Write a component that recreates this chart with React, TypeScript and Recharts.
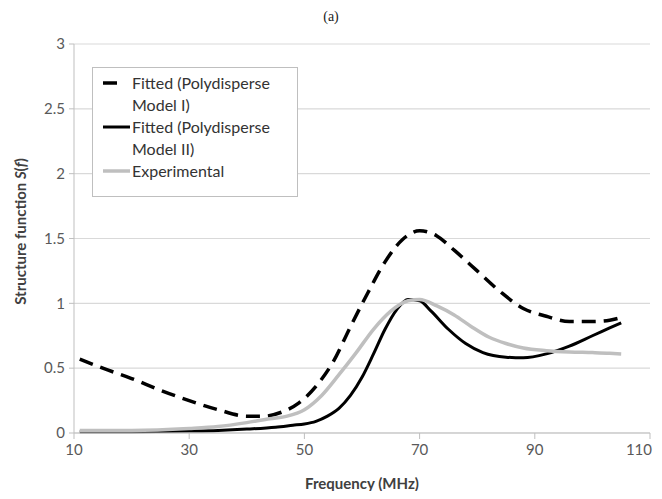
import { ReactElement } from "react";
import { CartesianGrid, Legend, Line, LineChart, XAxis, YAxis } from "recharts";

// frequency (MHz) and S(f) samples for each curve
const modelIFreq = [11, 15, 20, 25, 30, 35, 40, 43, 46, 49, 52, 55, 58, 61, 64, 67, 70, 73, 76, 80, 84, 88, 92, 96, 100, 103, 105];
const modelIValues = [0.57, 0.5, 0.42, 0.33, 0.25, 0.18, 0.13, 0.13, 0.16, 0.23, 0.36, 0.55, 0.82, 1.08, 1.32, 1.49, 1.56, 1.52, 1.41, 1.25, 1.09, 0.96, 0.9, 0.86, 0.86, 0.87, 0.89];

const modelIIFreq = [11, 20, 30, 35, 40, 45, 48, 50, 52, 54, 56, 58, 60, 62, 64, 66, 68, 70, 72, 75, 78, 81, 85, 88, 92, 96, 100, 103, 105];
const modelIIValues = [0.01, 0.01, 0.015, 0.02, 0.03, 0.045, 0.06, 0.07, 0.09, 0.13, 0.19, 0.29, 0.43, 0.61, 0.8, 0.95, 1.03, 1.02, 0.94, 0.8, 0.69, 0.62, 0.585, 0.58, 0.61, 0.67, 0.75, 0.81, 0.85];

const expFreq = [11, 20, 30, 35, 40, 44, 47, 50, 53, 56, 59, 62, 65, 68, 70, 73, 76, 79, 82, 85, 88, 92, 96, 100, 103, 105];
const expValues = [0.02, 0.02, 0.035, 0.05, 0.08, 0.11, 0.13, 0.18, 0.29, 0.45, 0.62, 0.8, 0.94, 1.02, 1.03, 0.98, 0.91, 0.82, 0.74, 0.69, 0.655, 0.635, 0.625, 0.62, 0.615, 0.61];

const xTicks = [10, 30, 50, 70, 90, 110];
const yTicks = [0, 0.5, 1, 1.5, 2, 2.5, 3];

const toPoints = (freq: number[], vals: number[]) => freq.map((f, i) => ({ f, s: vals[i] }));

const series = [
  { name: "Fitted (Polydisperse Model I)", lines: ["Fitted (Polydisperse", "Model I)"], data: toPoints(modelIFreq, modelIValues), color: "#000000", width: 3.5, dash: "14 8" },
  { name: "Fitted (Polydisperse Model II)", lines: ["Fitted (Polydisperse", "Model II)"], data: toPoints(modelIIFreq, modelIIValues), color: "#000000", width: 3, dash: undefined },
  { name: "Experimental", lines: ["Experimental"], data: toPoints(expFreq, expValues), color: "#bfbfbf", width: 3.5, dash: undefined },
];

const FONT = "Lato, 'Open Sans', sans-serif";

function LegendBox(): ReactElement {
  return (
    <div style={{ width: 206, height: 130, border: "1px solid #bfbfbf", background: "#fff", boxSizing: "border-box", padding: "4px 0 0 8px", fontFamily: FONT, fontSize: 16, color: "#333", lineHeight: "22px" }}>
      {series.map((s) => (
        <div key={s.name} style={{ display: "flex" }}>
          <svg width={31} height={22} style={{ flexShrink: 0 }}>
            <line x1={2} y1={11} x2={s.dash ? 16 : 29} y2={11} stroke={s.color} strokeWidth={s.width} />
          </svg>
          <div>
            {s.lines.map((t) => (
              <div key={t}>{t}</div>
            ))}
          </div>
        </div>
      ))}
    </div>
  );
}

// the last label sits at the right edge, so it is anchored at its end
function XTick(props: any): ReactElement {
  const { x, y, payload, index, visibleTicksCount } = props;
  const last = index === visibleTicksCount - 1;
  return (
    <text x={last ? x + 2 : x} y={y + 14} textAnchor={last ? "end" : "middle"} fontFamily={FONT} fontSize={15} fill="#595959">
      {payload.value}
    </text>
  );
}

function YLabel(props: any): ReactElement {
  const { viewBox } = props;
  const cx = 12;
  const cy = viewBox.y + viewBox.height / 2 - 7;
  return (
    <text x={cx} y={cy} transform={`rotate(-90, ${cx}, ${cy})`} textAnchor="middle" dominantBaseline="central" fontFamily={FONT} fontWeight={700} fontSize={15} fill="#404040">
      Structure function <tspan fontStyle="italic">S</tspan>(<tspan fontStyle="italic">f</tspan>)
    </text>
  );
}

export default function App(): ReactElement {
  return (
    <div style={{ position: "relative", width: 654, height: 483 }}>
      <div style={{ position: "absolute", left: 0, width: 646, top: 1, textAlign: "center", fontFamily: "'Liberation Serif', serif", fontSize: 14, color: "#222" }}>
        (a)
      </div>
      <LineChart width={654} height={483} margin={{ top: 36, right: 12, left: 0, bottom: 0 }}>
        <CartesianGrid vertical={false} stroke="#d9d9d9" strokeWidth={1.2} />
        <XAxis
          type="number"
          dataKey="f"
          domain={[10, 110]}
          ticks={xTicks}
          interval={0}
          height={58}
          stroke="#bfbfbf"
          tickSize={6}
          tick={<XTick />}
          label={{ value: "Frequency (MHz)", position: "insideBottom", offset: 2, fill: "#404040", fontSize: 15, fontWeight: 700, fontFamily: FONT }}
        />
        <YAxis
          type="number"
          domain={[0, 3]}
          ticks={yTicks}
          width={66}
          stroke="#bfbfbf"
          tickSize={5}
          tickMargin={4}
          tick={{ fill: "#595959", fontSize: 15, fontFamily: FONT }}
          label={<YLabel />}
        />
        <Legend layout="vertical" align="center" verticalAlign="middle" wrapperStyle={{ left: 84, top: 59, width: 206 }} content={() => <LegendBox />} />
        {series.map((s) => (
          <Line
            key={s.name}
            name={s.name}
            data={s.data}
            dataKey="s"
            type="monotone"
            stroke={s.color}
            strokeWidth={s.width}
            strokeDasharray={s.dash}
            dot={false}
            activeDot={false}
            isAnimationActive={false}
          />
        ))}
      </LineChart>
    </div>
  );
}
